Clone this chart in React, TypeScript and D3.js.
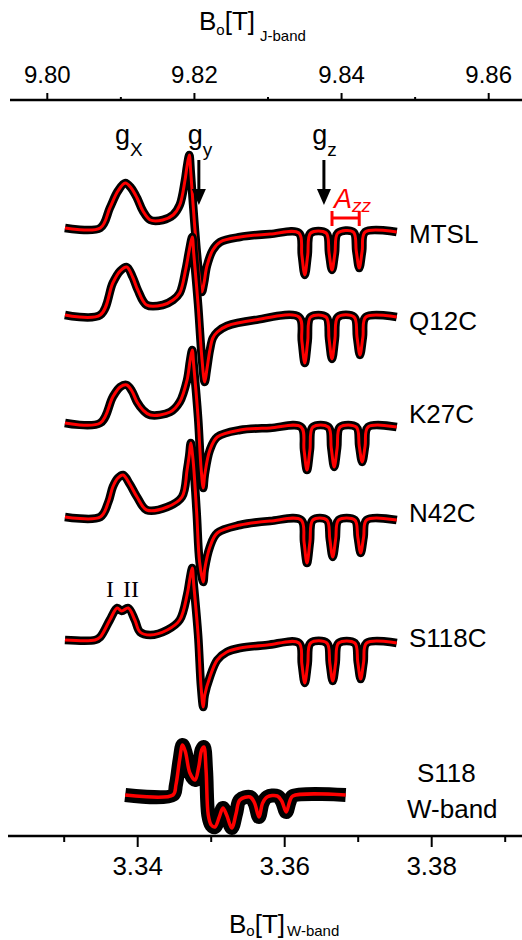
import React from 'react'
import * as d3 from 'd3'

type Pt = [number, number]

// axis ticks (tesla)
const topTicks = [9.80, 9.82, 9.84, 9.86]
const topMinor = [9.81, 9.83, 9.85]
const bottomTicks = [3.34, 3.36, 3.38]
const bottomMinor = [3.33, 3.35, 3.37, 3.39]

// J-band samples, baseline offset of each trace in the stack (arb. units)
const samples = ['MTSL', 'Q12C', 'K27C', 'N42C', 'S118C']
const baselines = [608, 521, 413, 319, 196]
const wBaseline = 41

// [B (T, J-band), signal]
const mtsl: Pt[] = [
  [9.8024, 0], [9.8072, 0], [9.8085, 20], [9.8096, 37], [9.8106, 45], [9.8114, 40],
  [9.8122, 30], [9.8130, 17], [9.8140, 8], [9.8157, 8], [9.8171, 13], [9.8180, 23],
  [9.8187, 47], [9.8190, 62], [9.8193, 73], [9.8195, 56], [9.8200, 5], [9.8206, -45],
  [9.8210, -64], [9.8213, -55], [9.8217, -38], [9.8225, -22], [9.8235, -14], [9.8262, -9],
  [9.8303, -6], [9.8342, -5], [9.8346, -27], [9.8350, -47], [9.8354, -27], [9.8358, -5],
  [9.8379, -5], [9.8383, -25], [9.8387, -42], [9.8391, -25], [9.8395, -5],
  [9.8416, -4], [9.8420, -23], [9.8424, -40], [9.8428, -23], [9.8432, -4], [9.8475, -4],
]
const q12c: Pt[] = [
  [9.8024, 0], [9.8072, 0], [9.8089, 32], [9.8099, 44], [9.8108, 48], [9.8116, 38],
  [9.8123, 25], [9.8135, 10], [9.8157, 10], [9.8171, 15], [9.8180, 22], [9.8188, 45],
  [9.8193, 65], [9.8197, 78], [9.8199, 62], [9.8205, 10], [9.8210, -42], [9.8214, -67],
  [9.8217, -54], [9.8221, -35], [9.8225, -23], [9.8231, -17], [9.8244, -11], [9.8282, -5],
  [9.8342, -2], [9.8346, -26], [9.8350, -48], [9.8354, -26], [9.8358, -2],
  [9.8379, -2], [9.8383, -24], [9.8387, -44], [9.8391, -24], [9.8395, -2],
  [9.8417, -2], [9.8421, -22], [9.8425, -40], [9.8429, -22], [9.8433, -2], [9.8475, -2],
]
const k27c: Pt[] = [
  [9.8024, 0], [9.8072, 0], [9.8089, 26], [9.8099, 36], [9.8108, 38], [9.8115, 32],
  [9.8122, 21], [9.8130, 13], [9.8140, 8], [9.8167, 11], [9.8180, 21], [9.8190, 43],
  [9.8194, 62], [9.8197, 73], [9.8199, 58], [9.8205, 5], [9.8209, -45], [9.8212, -65],
  [9.8214, -52], [9.8221, -27], [9.8231, -14], [9.8262, -7], [9.8303, -5],
  [9.8345, -4], [9.8349, -27], [9.8353, -47], [9.8357, -27], [9.8361, -4],
  [9.8382, -4], [9.8386, -25], [9.8390, -44], [9.8394, -25], [9.8398, -4],
  [9.8420, -4], [9.8424, -23], [9.8428, -39], [9.8432, -23], [9.8436, -4], [9.8475, -4],
]
const n42c: Pt[] = [
  [9.8024, 0], [9.8072, 0], [9.8083, 15], [9.8089, 30], [9.8096, 39], [9.8103, 42],
  [9.8112, 33], [9.8122, 20], [9.8135, 7], [9.8163, 10], [9.8183, 20], [9.8190, 47],
  [9.8193, 62], [9.8195, 74], [9.8198, 58], [9.8203, 5], [9.8207, -45], [9.8212, -65],
  [9.8214, -52], [9.8221, -30], [9.8231, -16], [9.8262, -8], [9.8303, -4],
  [9.8345, -3], [9.8349, -25], [9.8353, -46], [9.8357, -25], [9.8361, -3],
  [9.8380, -3], [9.8384, -22], [9.8388, -40], [9.8392, -22], [9.8396, -3],
  [9.8418, -3], [9.8422, -20], [9.8426, -36], [9.8430, -20], [9.8434, -3], [9.8475, -3],
]
const s118c: Pt[] = [
  [9.8024, 0], [9.8065, 0], [9.8072, 3], [9.8085, 20], [9.8095, 32], [9.8101, 29],
  [9.8110, 32], [9.8119, 20], [9.8126, 8], [9.8140, 5], [9.8163, 10], [9.8180, 20],
  [9.8190, 45], [9.8194, 62], [9.8197, 72], [9.8199, 56], [9.8205, 5], [9.8209, -47],
  [9.8212, -67], [9.8214, -55], [9.8221, -37], [9.8231, -20], [9.8244, -12], [9.8262, -8],
  [9.8299, -5], [9.8342, -3], [9.8346, -24], [9.8350, -43], [9.8354, -24], [9.8358, -3],
  [9.8380, -3], [9.8384, -23], [9.8388, -41], [9.8392, -23], [9.8396, -3],
  [9.8418, -3], [9.8422, -22], [9.8426, -39], [9.8430, -22], [9.8434, -3], [9.8475, -3],
]
// [B (T, W-band), signal]
const s118w: Pt[] = [
  [3.3383, 0], [3.3448, 0], [3.3452, 10], [3.3457, 35], [3.3461, 50], [3.3465, 43],
  [3.3471, 22], [3.3478, 15], [3.3483, 28], [3.3487, 45], [3.3490, 48], [3.3493, 25],
  [3.3496, -20], [3.3500, -30], [3.3505, -32], [3.3511, -22], [3.3516, -13], [3.3521, -20],
  [3.3528, -33], [3.3534, -18], [3.3539, -5], [3.3553, -2], [3.3559, -8], [3.3565, -22],
  [3.3570, -8], [3.3576, -2], [3.3590, -1], [3.3596, -6], [3.3602, -17], [3.3607, -6],
  [3.3611, -1], [3.3683, 0],
]
const jSeries = [mtsl, q12c, k27c, n42c, s118c]

// annotation field positions (J-band T)
const gLabels = [
  { g: 'X', at: 9.8092 },
  { g: 'y', at: 9.8191 },
  { g: 'z', at: 9.8360 },
]
const arrowsAt = [9.8206, 9.8376]
const azz = [9.8387, 9.8424]

const font = '"Liberation Sans", Arial, sans-serif'
const serif = '"Liberation Serif", "Times New Roman", serif'

export default function App() {
  const xJ = d3.scaleLinear().domain([9.80, 9.86]).range([47.3, 488.7])
  const xW = d3.scaleLinear().domain([3.34, 3.38]).range([137.7, 431.7])
  const y = d3.scaleLinear().domain([0, 736]).range([836, 100])

  const trace = (x: d3.ScaleLinear<number, number>, base: number) =>
    d3.line<Pt>()
      .x(d => x(d[0]))
      .y(d => y(base + d[1]))
      .curve(d3.curveCatmullRom.alpha(0.5))

  const labelY = [243, 330, 423, 522, 647]

  return (
    <div style={{ position: 'absolute', left: 0, top: 0 }}>
      <svg width={522} height={940} style={{ display: 'block', background: '#fff' }} fontFamily={font}>
        {/* top axis (J-band) */}
        <line x1={10} x2={522} y1={100} y2={100} stroke="#000" strokeWidth={2.5} />
        {topTicks.map(t => (
          <g key={t}>
            <line x1={xJ(t)} x2={xJ(t)} y1={100} y2={93} stroke="#000" strokeWidth={2} />
            <text x={xJ(t)} y={83} fontSize={24} textAnchor="middle">{t.toFixed(2)}</text>
          </g>
        ))}
        {topMinor.map(t => (
          <line key={t} x1={xJ(t)} x2={xJ(t)} y1={100} y2={97} stroke="#000" strokeWidth={2} />
        ))}
        <text x={199} y={30} fontSize={26}>
          B<tspan fontSize={15} dy={5}>o</tspan>
          <tspan fontSize={26} dy={-5}>[T]</tspan>
          <tspan fontSize={15} dy={11} dx={5}>J-band</tspan>
        </text>

        {/* bottom axis (W-band) */}
        <line x1={8} x2={522} y1={836} y2={836} stroke="#000" strokeWidth={2.5} />
        {bottomTicks.map(t => (
          <g key={t}>
            <line x1={xW(t)} x2={xW(t)} y1={836} y2={847} stroke="#000" strokeWidth={2} />
            <text x={xW(t)} y={875} fontSize={26} textAnchor="middle">{t.toFixed(2)}</text>
          </g>
        ))}
        {bottomMinor.map(t => (
          <line key={t} x1={xW(t)} x2={xW(t)} y1={836} y2={842} stroke="#000" strokeWidth={2} />
        ))}
        <text x={229} y={933} fontSize={26}>
          B<tspan fontSize={15} dy={3}>o</tspan>
          <tspan fontSize={26} dy={-3}>[T]</tspan>
          <tspan fontSize={15} dy={3} dx={2}>W-band</tspan>
        </text>

        {/* J-band spectra: data (black) and fit (red) */}
        {jSeries.map((s, i) => {
          const d = trace(xJ, baselines[i])(s) || ''
          return (
            <g key={samples[i]}>
              <path d={d} fill="none" stroke="#000" strokeWidth={8.5} strokeLinejoin="round" />
              <path d={d} fill="none" stroke="#ff0000" strokeWidth={3} strokeLinejoin="round" />
              <text x={409} y={labelY[i]} fontSize={26}>{samples[i]}</text>
            </g>
          )
        })}

        {/* W-band spectrum */}
        {(() => {
          const d = trace(xW, wBaseline)(s118w) || ''
          return (
            <g>
              <path d={d} fill="none" stroke="#000" strokeWidth={14} strokeLinejoin="round" />
              <path d={d} fill="none" stroke="#ff0000" strokeWidth={3.5} strokeLinejoin="round" />
            </g>
          )
        })()}
        <text x={417} y={782} fontSize={26}>S118</text>
        <text x={407} y={818} fontSize={26}>W-band</text>

        {/* g labels and arrows */}
        {gLabels.map(l => (
          <g key={l.g}>
            <text x={xJ(l.at)} y={144} fontSize={27}>g</text>
            <text x={xJ(l.at) + 15} y={156} fontSize={19}>{l.g}</text>
          </g>
        ))}
        {arrowsAt.map(a => (
          <g key={a}>
            <line x1={xJ(a)} x2={xJ(a)} y1={160} y2={192} stroke="#000" strokeWidth={3} />
            <path d={`M${xJ(a) - 7},189 L${xJ(a) + 7},189 L${xJ(a)},205 Z`} fill="#000" />
          </g>
        ))}

        {/* A_zz hyperfine bracket */}
        <g stroke="#ff0000" strokeWidth={3}>
          <line x1={xJ(azz[0])} x2={xJ(azz[1])} y1={218} y2={218} />
          <line x1={xJ(azz[0])} x2={xJ(azz[0])} y1={211} y2={226} />
          <line x1={xJ(azz[1])} x2={xJ(azz[1])} y1={211} y2={226} />
        </g>
        <text x={334} y={208} fontSize={27} fontStyle="italic" fill="#ff0000">A</text>
        <text x={352} y={212} fontSize={19} fontStyle="italic" fill="#ff0000">zz</text>

        {/* site labels in S118C */}
        <text x={106} y={597} fontSize={24} fontFamily={serif}>I</text>
        <text x={123} y={597} fontSize={24} fontFamily={serif}>II</text>
      </svg>
    </div>
  )
}
